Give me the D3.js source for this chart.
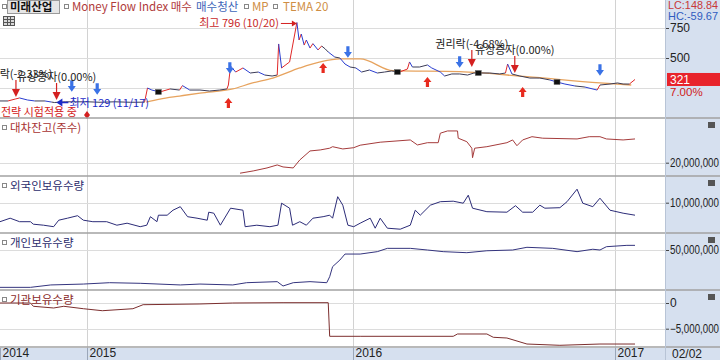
<!DOCTYPE html>
<html>
<head>
<meta charset="utf-8">
<script src="https://cdn.jsdelivr.net/npm/d3@7"></script>
<style>
  body { margin: 0; background: #fff; }
  svg { display: block; font-family: "Noto Sans CJK KR", "Liberation Sans", sans-serif; }
</style>
</head>
<body>
<div id="app"></div>
<script>
// ---- data ----
const priceData = [
  ["2014-09-03",142],["2014-09-14",142],["2014-09-24",158],["2014-09-30",167],["2014-10-11",150],
  ["2014-10-21",142],["2014-11-04",142],["2014-11-13",133],["2014-11-17",129],["2014-12-02",135],
  ["2014-12-16",135],["2015-01-02",135],["2015-01-19",131],["2015-02-08",135],["2015-03-02",131],
  ["2015-03-21",132],["2015-03-25",250],["2015-03-31",233],["2015-04-11",217],["2015-04-25",242],
  ["2015-05-08",233],["2015-05-12",270],["2015-05-22",233],["2015-06-05",233],["2015-06-18",225],
  ["2015-07-02",233],["2015-07-12",242],["2015-07-14",275],["2015-07-17",433],["2015-07-24",383],
  ["2015-08-03",417],["2015-08-13",375],["2015-08-24",383],["2015-09-02",358],["2015-09-12",350],
  ["2015-09-19",358],["2015-09-21",617],["2015-09-25",417],["2015-10-06",467],["2015-10-16",796],
  ["2015-10-19",650],["2015-10-22",700],["2015-10-26",608],["2015-10-29",650],["2015-11-03",583],
  ["2015-11-07",620],["2015-11-14",567],["2015-11-19",600],["2015-11-24",575],["2015-11-28",550],
  ["2015-12-07",508],["2015-12-14",500],["2015-12-21",450],["2015-12-28",425],["2016-01-05",417],
  ["2016-01-13",383],["2016-01-24",400],["2016-02-04",375],["2016-02-14",383],["2016-02-24",392],
  ["2016-03-06",383],["2016-03-17",408],["2016-03-20",467],["2016-03-24",425],["2016-04-03",425],
  ["2016-04-14",442],["2016-04-20",417],["2016-05-02",383],["2016-05-08",350],["2016-05-18",367],
  ["2016-05-29",367],["2016-06-09",358],["2016-06-18",375],["2016-06-27",375],["2016-07-10",375],
  ["2016-07-24",367],["2016-08-01",375],["2016-08-04",450],["2016-08-10",367],["2016-08-21",350],
  ["2016-09-04",333],["2016-09-18",333],["2016-10-02",317],["2016-10-12",300],["2016-10-23",283],
  ["2016-11-06",267],["2016-11-20",258],["2016-12-07",233],["2016-12-11",275],["2016-12-25",283],
  ["2017-01-05",292],["2017-01-14",283],["2017-01-24",283],["2017-02-02",321]
];

const temaData = [
  ["2015-03-23",133],["2015-04-11",158],["2015-05-08",183],["2015-06-05",208],["2015-07-20",242],
  ["2015-08-15",290],["2015-09-13",333],["2015-10-20",417],["2015-11-17",467],["2015-12-14",492],
  ["2016-01-11",492],["2016-02-26",394],["2016-05-29",386],["2016-08-31",344],["2016-12-11",292],
  ["2017-01-27",275]
];

// Money Flow Index signals: buy (red up) / exit (blue down)
const buySignals = [["2015-07-14",208],["2015-11-21",500],["2016-04-14",383],["2016-08-25",300]];
const sellSignals = [["2014-12-11",167],["2015-01-15",142],["2015-07-16",317],["2015-12-25",450],["2016-05-29",367],["2016-12-11",300]];
const mpMarkers = [["2015-04-09",217],["2016-03-03",383],["2016-06-24",375],["2016-10-12",300]];
const events = [
  ["2014-09-25",175,"권리락(-2.33%)"],
  ["2014-11-20",150,"유상증자(0.00%)"],
  ["2016-06-15",425,"권리락(-4.68%)"],
  ["2016-08-14",375,"유상증자(0.00%)"]
];
const highPoint = ["2015-10-16",796,"최고 796 (10/20)"];
const lowPoint = ["2014-11-17",129,"최저 129 (11/17)"];

const loanData = [
  ["2015-07-30",15.8e6],["2015-08-17",16.7e6],["2015-09-05",17.9e6],["2015-09-19",19.1e6],["2015-09-27",18.3e6],
  ["2015-10-11",17.9e6],["2015-10-20",21.1e6],["2015-11-03",24.7e6],["2015-11-17",25.1e6],["2015-11-30",25.8e6],
  ["2015-12-04",26.4e6],["2015-12-18",25.5e6],["2016-01-02",26.0e6],["2016-01-11",27.0e6],["2016-02-08",28.2e6],
  ["2016-03-21",29.1e6],["2016-03-31",27.1e6],["2016-04-14",28.0e6],["2016-04-29",28.0e6],["2016-05-02",31.8e6],
  ["2016-05-12",32.7e6],["2016-05-26",32.7e6],["2016-05-27",29.8e6],["2016-06-08",28.4e6],["2016-06-15",25.8e6],
  ["2016-06-16",22.0e6],["2016-06-19",25.8e6],["2016-07-06",26.4e6],["2016-08-03",28.0e6],["2016-08-11",29.1e6],
  ["2016-08-17",26.8e6],["2016-08-25",29.1e6],["2016-09-07",30.4e6],["2016-09-22",29.8e6],["2016-11-09",29.5e6],
  ["2016-11-26",30.4e6],["2016-12-11",30.4e6],["2016-12-20",29.5e6],["2017-01-14",29.1e6],["2017-02-02",29.5e6]
];

const foreignData = [
  ["2014-09-03",6.2e6],["2014-09-17",6.9e6],["2014-09-30",6.2e6],["2014-10-15",6.2e6],["2014-10-19",5.7e6],
  ["2014-11-02",5.5e6],["2014-11-16",5.2e6],["2014-11-23",6.5e6],["2014-12-05",6.9e6],["2014-12-19",7.4e6],
  ["2014-12-27",6.5e6],["2015-01-09",6.2e6],["2015-01-28",6.2e6],["2015-02-11",5.5e6],["2015-02-25",5.9e6],
  ["2015-03-15",5.2e6],["2015-03-24",5.5e6],["2015-03-29",7.2e6],["2015-04-07",6.2e6],["2015-04-09",7.5e6],
  ["2015-04-21",7.5e6],["2015-04-29",8.5e6],["2015-05-09",9.2e6],["2015-05-19",7.2e6],["2015-06-01",6.9e6],
  ["2015-06-15",6.5e6],["2015-06-17",8.1e6],["2015-06-24",7.9e6],["2015-07-03",5.5e6],["2015-07-17",8.9e6],
  ["2015-08-03",8.5e6],["2015-08-06",5.2e6],["2015-08-22",5.5e6],["2015-09-09",5.2e6],["2015-09-20",5.5e6],
  ["2015-09-25",9.9e6],["2015-10-06",8.9e6],["2015-10-10",5.5e6],["2015-10-20",6.2e6],["2015-10-29",5.5e6],
  ["2015-11-07",6.9e6],["2015-11-21",7.2e6],["2015-11-30",7.5e6],["2015-12-04",6.9e6],["2015-12-11",11.2e6],
  ["2015-12-18",9.5e6],["2015-12-25",5.5e6],["2016-01-02",5.2e6],["2016-01-11",5.9e6],["2016-01-25",6.9e6],
  ["2016-02-01",4.9e6],["2016-02-08",6.9e6],["2016-02-18",4.9e6],["2016-03-07",4.7e6],["2016-03-21",5.5e6],
  ["2016-03-28",8.5e6],["2016-04-04",7.5e6],["2016-04-18",9.5e6],["2016-05-02",10.2e6],["2016-05-20",10.3e6],
  ["2016-06-03",9.9e6],["2016-06-10",11.5e6],["2016-06-16",8.9e6],["2016-07-06",8.2e6],["2016-08-03",8.1e6],
  ["2016-08-15",9.4e6],["2016-08-25",8.1e6],["2016-09-08",8.1e6],["2016-09-18",9.5e6],["2016-09-25",8.9e6],
  ["2016-10-16",9.0e6],["2016-10-26",10.2e6],["2016-11-09",12.7e6],["2016-11-17",9.9e6],["2016-12-01",9.2e6],
  ["2016-12-11",10.9e6],["2016-12-25",8.5e6],["2017-01-14",7.9e6],["2017-02-02",7.5e6]
];

const retailData = [
  ["2014-09-03",25.1e6],["2014-10-15",25.1e6],["2014-11-12",26.7e6],["2014-12-27",27.3e6],["2015-02-01",28.2e6],
  ["2015-03-15",27.8e6],["2015-05-09",26.7e6],["2015-06-05",27.3e6],["2015-07-20",26.7e6],["2015-08-08",28.2e6],
  ["2015-09-19",28.9e6],["2015-09-27",26.0e6],["2015-10-11",28.2e6],["2015-11-03",28.9e6],["2015-11-26",28.2e6],
  ["2015-11-30",32.2e6],["2015-12-04",38.9e6],["2015-12-14",43.3e6],["2015-12-21",47.3e6],["2016-01-11",47.3e6],
  ["2016-02-04",48.9e6],["2016-02-18",51.1e6],["2016-03-21",51.1e6],["2016-04-14",50.0e6],["2016-05-06",48.9e6],
  ["2016-06-08",48.2e6],["2016-07-06",49.5e6],["2016-08-11",50.0e6],["2016-08-31",51.8e6],["2016-10-06",51.1e6],
  ["2016-11-09",48.9e6],["2016-12-01",50.5e6],["2016-12-11",50.0e6],["2016-12-20",52.2e6],["2017-01-20",53.1e6],
  ["2017-02-02",53.1e6]
];

const instData = [
  ["2014-09-03",0],["2014-10-15",0],["2014-10-19",-0.64e6],["2014-11-16",-0.97e6],["2014-11-30",-0.64e6],
  ["2014-12-27",-1.11e6],["2015-01-22",-1.5e6],["2015-03-05",-1.11e6],["2015-03-19",-0.33e6],["2015-06-05",-0.19e6],
  ["2015-07-20",0],["2015-09-27",0.06e6],["2015-11-28",0.06e6],["2015-11-30",-6.48e6],["2016-01-11",-6.48e6],
  ["2016-05-20",-6.48e6],["2016-05-26",-6.03e6],["2016-07-06",-6.03e6],["2016-07-15",-6.67e6],["2016-08-03",-6.81e6],
  ["2016-08-31",-7.98e6],["2016-10-16",-8.23e6],["2016-12-11",-7.98e6],["2017-02-02",-7.98e6]
];

// axis labels
const dateAnchors = ["2014-09-03","2015-01-01","2016-01-01","2017-01-01","2017-02-02"];
const yearTicks = ["2014-09-03","2015-01-01","2016-01-01","2017-01-01"];
const priceTicks = [750, 500];
const priceGrid = [750, 500, 250];
const loanTicks = [20e6];
const foreignTicks = [10e6];
const retailTicks = [50e6];
const instTicks = [0, -5e6];

// ---- setup ----
const parse = d3.timeParse("%Y-%m-%d");
const toPts = (arr) => arr.map((d) => ({ date: parse(d[0]), v: d[1] }));
const plotR = 665;
const axisTop = 348;
const blue = "#d6e0ef";
const numFont = "'Liberation Sans', sans-serif";

const x = d3.scaleTime().domain(dateAnchors.map(parse)).range([0, 87, 353, 615, 635]);
const priceY = d3.scaleLinear().domain([250, 750]).range([88, 28]);

const svg = d3.select("#app").append("svg").attr("width", 720).attr("height", 360);
const defs = svg.append("defs");

// squeeze a label so it stays inside the narrow right strip
const fitWidth = (sel, maxW) => sel.each(function () {
  if (this.getComputedTextLength() > maxW) {
    d3.select(this).attr("textLength", maxW).attr("lengthAdjust", "spacingAndGlyphs");
  }
});

svg.append("rect").attr("width", 720).attr("height", 360).attr("fill", "#fff");
svg.append("rect").attr("x", plotR).attr("width", 720 - plotR).attr("height", 360).attr("fill", blue);
svg.append("rect").attr("y", axisTop).attr("width", 720).attr("height", 12).attr("fill", blue);

const clip = (id, top, bottom) => {
  defs.append("clipPath").attr("id", id).append("rect")
    .attr("x", 0).attr("y", top).attr("width", plotR).attr("height", bottom - top);
  return `url(#${id})`;
};

// vertical year gridlines
svg.append("g")
  .selectAll("line")
  .data(yearTicks.slice(1).map(parse))
  .join("line")
  .attr("x1", (d) => Math.round(x(d)) + 0.5).attr("x2", (d) => Math.round(x(d)) + 0.5)
  .attr("y1", 0).attr("y2", 360)
  .attr("stroke", "#d2d2d2");

// right axis helper
const rightAxis = (y, top, bottom, ticks, fmt) => {
  const g = svg.append("g").attr("transform", `translate(${plotR},0)`);
  const ext = [y.invert(bottom - 3), y.invert(top + 3)].sort((a, b) => a - b);
  g.call(d3.axisRight(y).tickValues(d3.ticks(ext[0], ext[1], 10)).tickSize(2).tickFormat(""));
  g.call(d3.axisRight(y).tickValues(ticks).tickSize(4).tickFormat(fmt));
  g.select(".domain").remove();
  g.selectAll("line").attr("stroke", "#444");
  g.selectAll("text").attr("x", 5).attr("fill", "#222")
    .style("font-size", "12px").style("font-family", numFont)
    .call(fitWidth, 49);
};

// ---- price pane ----
svg.append("g").selectAll("line").data(priceGrid).join("line")
  .attr("x1", 0).attr("x2", plotR)
  .attr("y1", (d) => Math.round(priceY(d)) + 0.5).attr("y2", (d) => Math.round(priceY(d)) + 0.5)
  .attr("stroke", "#dcdcdc");

const price = toPts(priceData);
const priceClip = clip("c-price", 18, 118);

// tema 20
svg.append("path")
  .datum(toPts(temaData))
  .attr("clip-path", priceClip)
  .attr("fill", "none")
  .attr("stroke", "#e7a35e")
  .attr("stroke-width", 1.3)
  .attr("d", d3.line().curve(d3.curveMonotoneX).x((d) => x(d.date)).y((d) => priceY(d.v)));

// price line, coloured by move
svg.append("g")
  .attr("clip-path", priceClip)
  .selectAll("line")
  .data(d3.pairs(price))
  .join("line")
  .attr("x1", ([a]) => x(a.date)).attr("y1", ([a]) => priceY(a.v))
  .attr("x2", ([, b]) => x(b.date)).attr("y2", ([, b]) => priceY(b.v))
  .attr("stroke", ([a, b]) => {
    const r = (b.v - a.v) / a.v;
    return r > 0.05 ? "#e02828" : r < -0.05 ? "#2a3dd0" : "#3b3b55";
  })
  .attr("stroke-width", 1);

// mp markers
svg.append("g").selectAll("rect").data(toPts(mpMarkers)).join("rect")
  .attr("x", (d) => x(d.date) - 3).attr("y", (d) => priceY(d.v) - 2.5)
  .attr("width", 6).attr("height", 5)
  .attr("fill", "#111").attr("stroke", "#666").attr("stroke-width", 0.5);

// buy arrows (red, up) and exits (blue, down)
const upArrow = "M0,-5L4,0L1.6,0L1.6,5L-1.6,5L-1.6,0L-4,0Z";
const downArrow = "M0,5L4,0L1.6,0L1.6,-5L-1.6,-5L-1.6,0L-4,0Z";
svg.append("g").selectAll("path").data(toPts(buySignals)).join("path")
  .attr("transform", (d) => `translate(${x(d.date)},${priceY(d.v) + 10})`)
  .attr("d", upArrow).attr("fill", "#e82a1e");

svg.append("g").selectAll("path").data(toPts(sellSignals)).join("path")
  .attr("transform", (d) => `translate(${x(d.date)},${priceY(d.v) - 12}) scale(1,1.15)`)
  .attr("d", downArrow).attr("fill", "#3a72e6");

// corporate events
const ev = svg.append("g").selectAll("g")
  .data(events.map((d) => ({ date: parse(d[0]), v: d[1], label: d[2] })))
  .join("g")
  .attr("transform", (d) => `translate(${x(d.date)},${priceY(d.v)})`);
ev.append("line").attr("y1", -17).attr("y2", -7).attr("stroke", "#d42020").attr("stroke-width", 1.2);
ev.append("path").attr("d", "M-4,-8L4,-8L0,0Z").attr("fill", "#d42020");
ev.append("text").attr("y", -19).attr("text-anchor", "middle")
  .attr("fill", "#222").style("font-size", "11px").text((d) => d.label);

// high / low labels
const hx = x(parse(highPoint[0])), hy = priceY(highPoint[1]);
svg.append("line").attr("x1", hx - 16).attr("x2", hx - 4).attr("y1", hy + 1).attr("y2", hy + 1)
  .attr("stroke", "#d42020");
svg.append("path").attr("d", `M${hx},${hy + 1}L${hx - 5},${hy - 2}L${hx - 5},${hy + 4}Z`).attr("fill", "#d42020");
svg.append("text").attr("x", hx - 18).attr("y", hy + 5).attr("text-anchor", "end")
  .attr("fill", "#c82828").style("font-size", "11px").text(highPoint[2]);

const lx = x(parse(lowPoint[0])), ly = priceY(lowPoint[1]);
svg.append("line").attr("x1", lx + 6).attr("x2", lx + 14).attr("y1", ly).attr("y2", ly)
  .attr("stroke", "#1c2cc8").attr("stroke-width", 1.5);
svg.append("path").attr("d", `M${lx + 2},${ly}L${lx + 8},${ly - 4}L${lx + 8},${ly + 4}Z`).attr("fill", "#1c2cc8");
svg.append("text").attr("x", lx + 15).attr("y", ly + 4)
  .attr("fill", "#1c2cc8").style("font-size", "11px").text(lowPoint[2]);

svg.append("text").attr("x", 1).attr("y", 116).attr("fill", "#d42020")
  .style("font-size", "11px").text("전략 시험적용 중");
svg.append("path").attr("d", "M87,111L90,115L87,119L84,115Z").attr("fill", "#d42020");

rightAxis(priceY, 18, 118, priceTicks, d3.format("d"));

// last price tag
const last = price[price.length - 1];
svg.append("rect").attr("x", plotR + 2).attr("y", priceY(last.v) - 6.5)
  .attr("width", 720 - plotR - 2).attr("height", 13).attr("fill", "#e8232b");
svg.append("text").attr("x", plotR + 5).attr("y", priceY(last.v) + 4.5).attr("fill", "#fff")
  .style("font-size", "12px").style("font-family", numFont).text(last.v);
svg.append("text").attr("x", plotR + 5).attr("y", priceY(last.v) + 16.5).attr("fill", "#d02020")
  .style("font-size", "11.5px").style("font-family", numFont).text("7.00%");

// ---- lower panes ----
const panes = [
  { id: "loan", top: 118, bottom: 176, data: loanData, ticks: loanTicks, dom: [20e6, 30e6], rng: [162.7, 137.7],
    color: "#a53b3b", label: "대차잔고(주수)", labelColor: "#a83232" },
  { id: "foreign", top: 176, bottom: 233, data: foreignData, ticks: foreignTicks, dom: [5e6, 10e6], rng: [227.7, 202.7],
    color: "#2c2c78", label: "외국인보유수량", labelColor: "#2c2c6c" },
  { id: "retail", top: 233, bottom: 290, data: retailData, ticks: retailTicks, dom: [30e6, 50e6], rng: [280, 250],
    color: "#34347e", label: "개인보유수량", labelColor: "#2c2c6c" },
  { id: "inst", top: 290, bottom: 347, data: instData, ticks: instTicks, dom: [-5e6, 0], rng: [328.7, 303],
    color: "#7c2e2e", label: "기관보유수량", labelColor: "#8a2a2a" }
];

panes.forEach((p) => {
  const y = d3.scaleLinear().domain(p.dom).range(p.rng);

  svg.append("g").selectAll("line").data(p.ticks).join("line")
    .attr("x1", 0).attr("x2", plotR)
    .attr("y1", (d) => Math.round(y(d)) + 0.5).attr("y2", (d) => Math.round(y(d)) + 0.5)
    .attr("stroke", "#dcdcdc");

  svg.append("path")
    .datum(toPts(p.data))
    .attr("clip-path", clip("c-" + p.id, p.top + 2, p.bottom))
    .attr("fill", "none")
    .attr("stroke", p.color)
    .attr("stroke-width", 1)
    .attr("d", d3.line().x((d) => x(d.date)).y((d) => y(d.v)));

  svg.append("rect").attr("x", 2.5).attr("y", p.top + 7.5).attr("width", 4).attr("height", 4)
    .attr("fill", "#fff").attr("stroke", "#888");
  svg.append("text").attr("x", 10).attr("y", p.top + 14).attr("fill", p.labelColor)
    .style("font-size", "11.5px").text(p.label);

  // close icon
  svg.append("rect").attr("x", 708).attr("y", p.top + 4).attr("width", 7).attr("height", 6)
    .attr("fill", "#555");

  rightAxis(y, p.top, p.bottom, p.ticks, d3.format(","));
});

// pane separators
svg.append("g").selectAll("line").data([118, 176, 233, 290, 347]).join("line")
  .attr("x1", 0).attr("x2", 720).attr("y1", (d) => d).attr("y2", (d) => d)
  .attr("stroke", "#a2a2a2").attr("stroke-width", 1.6);
svg.append("line").attr("x1", plotR + 0.5).attr("x2", plotR + 0.5).attr("y1", 0).attr("y2", 360)
  .attr("stroke", "#b8c4d6");

// ---- bottom time axis ----
const xa = svg.append("g").attr("transform", `translate(0,${axisTop})`)
  .call(d3.axisBottom(x).tickValues(yearTicks.map(parse)).tickSize(12).tickFormat(d3.timeFormat("%Y")));
xa.select(".domain").remove();
xa.selectAll("line").attr("stroke", "#9aa6b8");
xa.selectAll("text").attr("text-anchor", "start").attr("x", 2).attr("y", 0.5).attr("dy", "0.71em")
  .attr("fill", "#222").style("font-size", "12px").style("font-family", numFont);
svg.append("text").attr("x", plotR + 7).attr("y", 358).attr("fill", "#222")
  .style("font-size", "12px").style("font-family", numFont)
  .text(d3.timeFormat("%m/%d")(parse(dateAnchors[dateAnchors.length - 1])));

// ---- header legend ----
const icon = (xx, yy) => svg.append("rect").attr("x", xx).attr("y", yy).attr("width", 4).attr("height", 4)
  .attr("fill", "#fff").attr("stroke", "#888");
icon(2.5, 4.5);
svg.append("rect").attr("x", 7.5).attr("y", 0.5).attr("width", 52).attr("height", 13)
  .attr("fill", "#e6e6e6").attr("stroke", "#9a9a9a");
svg.append("text").attr("x", 10).attr("y", 11).attr("fill", "#111")
  .style("font-size", "11.5px").style("font-weight", "bold").text("미래산업");
icon(64.5, 4.5);
svg.append("text").attr("x", 72).attr("y", 11).attr("fill", "#b03a3a")
  .style("font-size", "11.5px").text("Money Flow Index 매수");
svg.append("text").attr("x", 196).attr("y", 11).attr("fill", "#3d64b8")
  .style("font-size", "11.5px").text("매수청산");
icon(244.5, 4.5);
svg.append("text").attr("x", 252).attr("y", 11).attr("fill", "#cf8e44")
  .style("font-size", "11.5px").text("MP");
icon(273.5, 4.5);
svg.append("text").attr("x", 283).attr("y", 11).attr("fill", "#cf8e44")
  .style("font-size", "11.5px").text("TEMA 20");

// small grid icon
svg.append("rect").attr("x", 3.5).attr("y", 16.5).attr("width", 11).attr("height", 9)
  .attr("fill", "#d8d8d8").attr("stroke", "#555");
svg.append("path").attr("d", "M4,19.5H14M4,22.5H14M7.5,17V25M10.5,17V25").attr("stroke", "#555");

svg.append("text").attr("x", plotR + 3).attr("y", 9).attr("fill", "#c83838")
  .style("font-size", "11px").style("font-family", numFont).text("LC:148.84").call(fitWidth, 50);
svg.append("text").attr("x", plotR + 3).attr("y", 20).attr("fill", "#2f5cc0")
  .style("font-size", "11px").style("font-family", numFont).text("HC:-59.67").call(fitWidth, 50);
</script>
</body>
</html>
